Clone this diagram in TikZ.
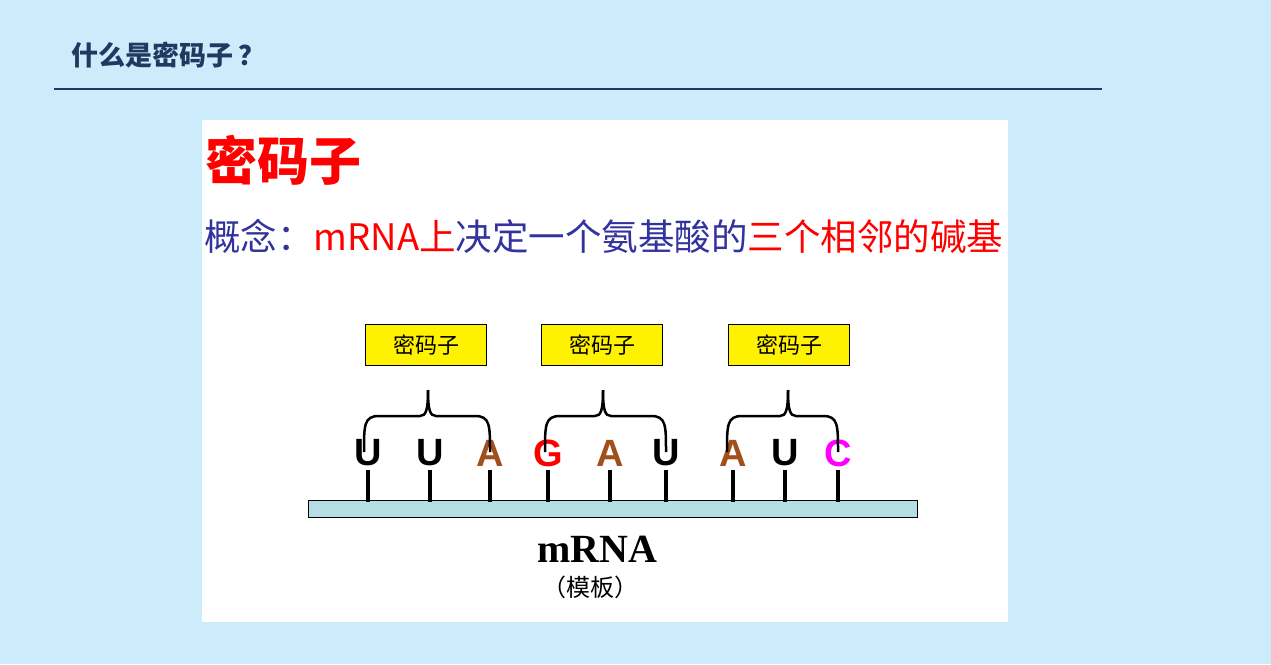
\documentclass[tikz,border=0pt]{standalone}
\usepackage{fontspec}
\setmainfont{Liberation Serif}
\newfontfamily\cjk{Noto Sans CJK SC}
\newfontfamily\arial{Liberation Sans}
\definecolor{bgc}{HTML}{CCEBFB}
\definecolor{navy}{HTML}{1F3A60}
\definecolor{bluet}{HTML}{3333A0}
\definecolor{brn}{HTML}{A0501A}
\definecolor{barc}{HTML}{B4DDE4}
\definecolor{mag}{HTML}{FF00FF}
\begin{document}
\begin{tikzpicture}[x=1pt,y=-1pt,
  base/.style={font=\arial\bfseries\fontsize{38}{38}\selectfont,inner sep=0pt},
  cbox/.style={draw=black,fill=yellow,minimum width=121pt,minimum height=41pt,font=\cjk\fontsize{22}{22}\selectfont},
  stick/.style={line width=3.5pt},
  br/.style={line width=2.5pt}]
\fill[bgc] (0,0) rectangle (1271,664);
\useasboundingbox (0,0) rectangle (1271,664);
\node[anchor=west,text=navy,font=\cjk\bfseries\fontsize{27}{27}\selectfont] (hdr) at (68,55) {什么是密码子\,？};
\draw[navy,line width=1.5pt] (54,89) coordinate (l1) -- (1102,89) coordinate (l2);
\fill[white] (202,120) rectangle (1008,622);
\node[anchor=west,text=red,font=\cjk\bfseries\fontsize{52}{52}\selectfont] (t) at (202,160) {密码子};
\node[anchor=west,font=\cjk\fontsize{36.5}{36.5}\selectfont,inner sep=0pt] (def) at (204,236)
 {\textcolor{bluet}{概念：}\textcolor{red}{mRNA上}\textcolor{bluet}{决定一个氨基酸的}\textcolor{red}{三个相邻的碱基}};
\node[cbox] (c1) at (426,345) {密码子};
\node[cbox] (c2) at (602,345) {密码子};
\node[cbox] (c3) at (789,345) {密码子};
\draw[fill=barc,line width=0.8pt] (308,500) rectangle (917,517);
\coordinate (bar) at (612,500);
\foreach \x/\l/\c [count=\i] in {368/U/black,430/U/black,490/A/brn,548/G/red,610/A/brn,666/U/black,733/A/brn,785/U/black,838/C/mag}{
  \node[base,text=\c] (b\i) at (\x,453) {\l};
  \draw[stick] (\x,470) -- (\x,502);
}
\foreach \a/\b/\m in {364/490/428,545/666/603,727/838/788}{
  \draw[br] (\a,452) .. controls (\a,425) and (\a,416) .. (\a+15,416) -- (\m-8,416)
    .. controls (\m-2,416) and (\m,410) .. (\m,390);
  \draw[br] (\b,452) .. controls (\b,425) and (\b,416) .. (\b-15,416) -- (\m+8,416)
    .. controls (\m+2,416) and (\m,410) .. (\m,390);
}
\node[font=\bfseries\fontsize{40}{40}\selectfont] (m) at (597,549) {mRNA};
\node[font=\cjk\fontsize{24}{24}\selectfont] (mb) at (590,587) {（模板）};
\end{tikzpicture}
\end{document}
